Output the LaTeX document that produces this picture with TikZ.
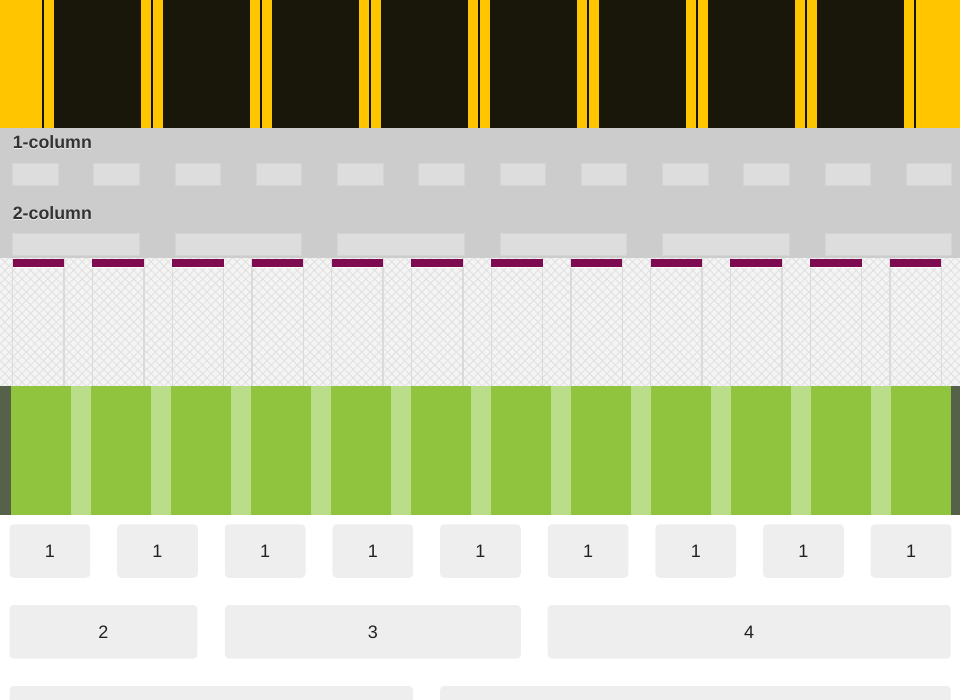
\documentclass[tikz,border=0pt]{standalone}
\usepackage{fontspec}
\setmainfont{Liberation Sans}
\definecolor{ylw}{HTML}{FFC600}
\definecolor{drk}{HTML}{19160A}
\definecolor{gband}{HTML}{CCCCCC}
\definecolor{gbox}{HTML}{DDDDDD}
\definecolor{gboxedge}{HTML}{D4D4D4}
\definecolor{hatchbg}{HTML}{F4F4F4}
\definecolor{hatchln}{HTML}{E0E0E0}
\definecolor{vline}{HTML}{DADADA}
\definecolor{plum}{HTML}{7E0B50}
\definecolor{grn}{HTML}{90C43F}
\definecolor{lgrn}{HTML}{BADD89}
\definecolor{dgrn}{HTML}{566149}
\definecolor{blk}{HTML}{EEEEEE}
\definecolor{txt}{HTML}{222222}
\definecolor{lbl}{HTML}{333333}
\tikzset{
  lbltext/.style={anchor=base west, inner sep=0, outer sep=0, text=lbl,
    font=\fontsize{17.8}{20}\selectfont\bfseries},
  lblshadow/.style={lbltext, text=white!70!gband},
  sbox/.style={anchor=north west, inner sep=0, outer sep=0, fill=gbox,
    draw=gboxedge, line width=0.6},
  blkbox/.style={inner sep=0, outer sep=0, fill=blk, rounded corners=4,
    text=txt, font=\fontsize{18}{20}\selectfont},
}
\begin{document}
\begin{tikzpicture}[x=1pt,y=-1pt]
\useasboundingbox (0,0) rectangle (960,700);
\clip (0,0) rectangle (960,700);
% ---------- top band
\fill[ylw] (0,0) rectangle (960,128.5);
\foreach \i in {0,...,7}
  \fill[drk] ({54+109*\i},0) rectangle ({141+109*\i},128.5);
\foreach \i in {0,...,8}
  \fill[black!92] ({42+109*\i},0) rectangle ({43.6+109*\i},128.5);
% ---------- gray band
\fill[gband] (0,128.5) rectangle (960,258);
\node[lblshadow] (l1s) at (12.8,149.3) {1-column};
\node[lbltext] (l1) at (12.8,148.5) {1-column};
\node[lblshadow] (l2s) at (12.8,220.1) {2-column};
\node[lbltext] (l2) at (12.8,219.3) {2-column};
\foreach \i in {0,...,11}
  \node[sbox, minimum width=45.3, minimum height=22] (c\i) at ({12.5+81.25*\i},163) {};
\foreach \i in {0,...,5}
  \node[sbox, minimum width=126.5, minimum height=21.5] (d\i) at ({12.5+162.5*\i},233.5) {};
% ---------- hatched band
\begin{scope}
  \clip (0,258) rectangle (960,386);
  \fill[hatchbg] (0,258) rectangle (960,386);
  \foreach \c in {0,8.6,...,1100} {
    \draw[hatchln, line width=0.8] (\c,258) -- ++(-128,128);
    \draw[hatchln, line width=0.8] ({\c-128},258) -- ++(128,128);
  }
\end{scope}
\foreach \k in {0,...,11} {
  \pgfmathsetmacro{\xl}{12.7+79.75*\k}
  \draw[vline, line width=1.3] (\xl,258) -- (\xl,386);
  \draw[vline, line width=1.3] ({\xl+51.4},258) -- ({\xl+51.4},386);
  \fill[plum] (\xl,259) rectangle ({\xl+51.4},267.5);
  \fill[white!70!hatchbg] (\xl,267.5) rectangle ({\xl+51.4},268.5);
}
% ---------- green band
\fill[grn] (0,386) rectangle (960,515);
\fill[dgrn] (0,386) rectangle (11,515);
\fill[dgrn] (951,386) rectangle (960,515);
\foreach \k in {0,...,10}
  \fill[lgrn] ({71+80*\k},386) rectangle ({91+80*\k},515);
% ---------- bottom blocks
\foreach \k in {0,...,8}
  \node[blkbox, minimum width=80.7, minimum height=53.5] (r\k) at ({49.85+107.65*\k},551) {1};
\node[blkbox, minimum width=187.9, minimum height=53.7] (b2) at (103.45,631.85) {2};
\node[blkbox, minimum width=296, minimum height=53.7] (b3) at (372.8,631.85) {3};
\node[blkbox, minimum width=403, minimum height=53.7] (b4) at (749.2,631.85) {4};
\node[blkbox, anchor=north west, minimum width=403.6, minimum height=53.7] (b5) at (9.5,686) {};
\node[blkbox, anchor=north west, minimum width=510.6, minimum height=53.7] (b6) at (440.1,686) {};
\end{tikzpicture}
\end{document}
